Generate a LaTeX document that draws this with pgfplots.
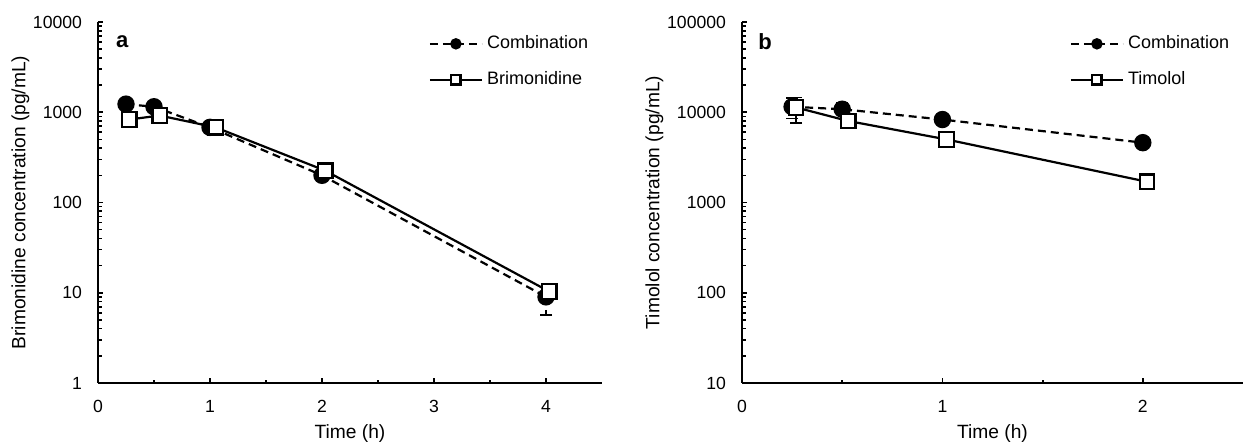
\documentclass[border=0pt]{standalone}
\usepackage{pgfplots}
\pgfplotsset{compat=1.18}
\usepackage{fontspec}
\setmainfont{Liberation Sans}
\begin{document}
\begin{tikzpicture}
\useasboundingbox (0,0) rectangle (621.5pt,221pt);
\pgfplotsset{
  every axis/.append style={
    scale only axis, height=180.5pt,
    ymode=log, log basis y=10,
    axis lines=left, axis line style={-, line width=0.9pt},
    tick align=inside, major tick length=2.5pt, minor tick length=1.6pt,
    every tick/.style={black, line width=0.9pt},
    /pgf/number format/assume math mode=true,
    tick label style={font=\fontsize{8.8}{10}\selectfont},
    yticklabel style={xshift=-4.5pt},
    xticklabel style={yshift=-5pt},
    label style={font=\fontsize{9.6}{11}\selectfont},
    log ticks with fixed point,
    /pgf/number format/1000 sep={},
    legend style={draw=none, fill=none, font=\fontsize{9}{10}\selectfont, row sep=6pt,
      cells={anchor=west}},
    legend image code/.code={\draw[#1, mark size=2.3pt, mark repeat=2, mark phase=2]
      plot coordinates {(0pt,0pt) (13pt,0pt) (26pt,0pt)};},
    error bars/error bar style={line width=0.8pt, black},
    error bars/error mark options={rotate=90, mark size=3pt, line width=0.8pt, black},
    extra y tick style={major tick length=1.8pt, tick style={line width=0.8pt}},
    extra y tick labels={},
    clip=false,
  },
  comb/.style={black, line width=1.1pt, dash pattern=on 4pt off 2.5pt, mark=*, mark size=3.8pt,
    mark options={solid, fill=black},
    error bars/.cd, y dir=both, y explicit},
  mono/.style={black, line width=1.1pt, solid, mark=square*, mark size=3.6pt,
    mark options={solid, fill=white, line width=1.1pt},
    error bars/.cd, y dir=both, y explicit},
}
% Panel a
\begin{axis}[at={(49pt,29.5pt)}, width=252pt,
  xmin=0, xmax=4.5, ymin=1, ymax=10000,
  xtick={0,1,2,3,4}, minor xtick={0.5,1.5,2.5,3.5},
  ytick={1,10,100,1000,10000},
  extra y ticks={2,3,4,5,6,7,8,9,20,30,40,50,60,70,80,90,200,300,400,500,600,700,800,900,2000,3000,4000,5000,6000,7000,8000,9000},
  xlabel={Time (h)}, ylabel={Brimonidine concentration (pg/mL)},
  xlabel style={yshift=1pt}, ylabel style={yshift=-5pt},
  legend style={at={(0.993,0.985)}, anchor=north east}]
\addplot+[comb] table[x=t, y=c, y error plus=ep, y error minus=em] {
t c ep em
0.25 1230 60 60
0.5 1150 60 60
1.0 680 40 40
2.0 200 30 25
4.0 9.0 1.0 3.3
};
\addlegendentry{Combination}
\addplot+[mono] table[x=t, y=c, y error plus=ep, y error minus=em] {
t c ep em
0.28 830 50 50
0.55 920 50 50
1.05 680 40 40
2.03 225 45 35
4.03 10.3 1.4 1.0
};
\addlegendentry{Brimonidine}
\node[font=\bfseries\fontsize{11}{12}\selectfont] at (rel axis cs:0.048,0.945) {a};
\end{axis}
% Panel b
\begin{axis}[at={(371pt,29.5pt)}, width=250.5pt,
  xmin=0, xmax=2.5, ymin=10, ymax=100000,
  xtick={0,1,2}, minor xtick={0.5,1.5},
  ytick={10,100,1000,10000,100000},
  extra y ticks={20,30,40,50,60,70,80,90,200,300,400,500,600,700,800,900,2000,3000,4000,5000,6000,7000,8000,9000,20000,30000,40000,50000,60000,70000,80000,90000},
  xlabel={Time (h)}, ylabel={Timolol concentration (pg/mL)},
  xlabel style={yshift=1pt}, ylabel style={yshift=-5pt},
  legend style={at={(0.993,0.985)}, anchor=north east}]
\addplot+[comb] table[x=t, y=c, y error plus=ep, y error minus=em] {
t c ep em
0.25 11500 2800 3000
0.5 10800 2000 1000
1.0 8300 500 500
2.0 4600 300 300
};
\addlegendentry{Combination}
\addplot+[mono] table[x=t, y=c, y error plus=ep, y error minus=em] {
t c ep em
0.27 11300 3300 3700
0.53 8000 500 500
1.02 5000 400 400
2.02 1700 150 150
};
\addlegendentry{Timolol}
\node[font=\bfseries\fontsize{11}{12}\selectfont] at (rel axis cs:0.046,0.945) {b};
\end{axis}
\end{tikzpicture}
\end{document}
